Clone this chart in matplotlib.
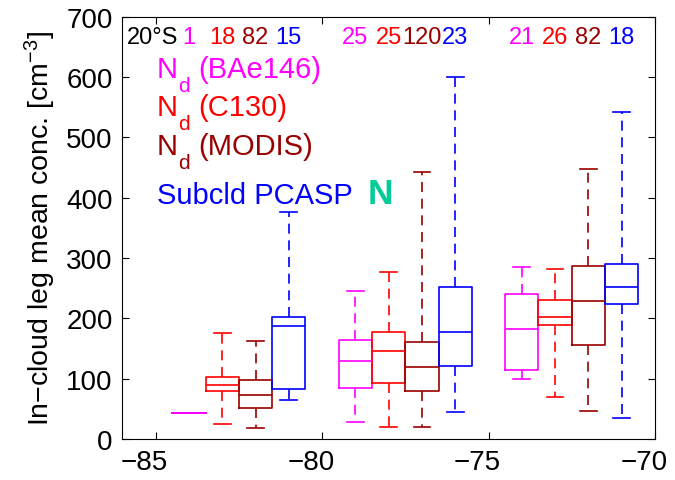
import matplotlib
matplotlib.use("Agg")
import matplotlib.pyplot as plt
from matplotlib.transforms import ScaledTranslation

plt.rcParams['font.family'] = ['Liberation Sans', 'DejaVu Sans']
plt.rcParams['mathtext.fontset'] = 'custom'
plt.rcParams['mathtext.rm'] = 'Liberation Sans'
plt.rcParams['mathtext.it'] = 'Liberation Sans:italic'

# box stats: whisker low, q1, median, q3, whisker high, count
bae_pos = [-84, -79, -74]
bae_low = [43.7, 28.8, 100.2]
bae_q1 = [43.7, 84.2, 114.6]
bae_med = [43.7, 129, 182.7]
bae_q3 = [43.7, 164, 239.7]
bae_high = [43.7, 245.8, 284.6]
bae_n = [1, 25, 21]

c130_pos = [-83, -78, -73]
c130_low = [25.4, 20.5, 69.8]
c130_q1 = [79, 92.5, 188.8]
c130_med = [90, 145.7, 202.7]
c130_q3 = [103, 176.6, 229.8]
c130_high = [176, 277, 282.4]
c130_n = [18, 25, 26]

modis_pos = [-82, -77, -72]
modis_low = [18.3, 20.5, 47]
modis_q1 = [51, 80.3, 155.6]
modis_med = [73.6, 120, 228]
modis_q3 = [98.5, 160, 286.8]
modis_high = [161.7, 442.4, 447.4]
modis_n = [82, 120, 82]

pcasp_pos = [-81, -76, -71]
pcasp_low = [65.3, 44.8, 34.9]
pcasp_q1 = [82.5, 121.3, 223.8]
pcasp_med = [186.6, 176.6, 252.5]
pcasp_q3 = [202.6, 252.5, 289.5]
pcasp_high = [376, 600.5, 541.5]
pcasp_n = [15, 23, 18]

magenta, red, darkred, blue = "#FF00FF", "#FF0000", "#990000", "#0000FF"

series = [
    (magenta, bae_pos, bae_low, bae_q1, bae_med, bae_q3, bae_high, bae_n),
    (red, c130_pos, c130_low, c130_q1, c130_med, c130_q3, c130_high, c130_n),
    (darkred, modis_pos, modis_low, modis_q1, modis_med, modis_q3, modis_high, modis_n),
    (blue, pcasp_pos, pcasp_low, pcasp_q1, pcasp_med, pcasp_q3, pcasp_high, pcasp_n),
]

fig = plt.figure(figsize=(6.75, 4.81), dpi=100)
ax = fig.add_axes([0.1813, 0.0852, 0.789, 0.878])

for col, pos, lo, q1, med, q3, hi, n in series:
    stats = []
    for i in range(len(pos)):
        stats.append(dict(whislo=lo[i], q1=q1[i], med=med[i], q3=q3[i], whishi=hi[i], fliers=[]))
    ax.bxp(stats, positions=pos, widths=1.0, showfliers=False, manage_ticks=False,
           boxprops=dict(color=col, lw=1.2),
           medianprops=dict(color=col, lw=1.2),
           whiskerprops=dict(color=col, lw=1.2, linestyle=(0, (6, 4))),
           capprops=dict(color=col, lw=1.2))
    for p, k in zip(pos, n):
        ax.text(p, 656, str(k), color=col, fontsize=17, ha='center', va='baseline')

ax.text(-85.87, 656, "20\u00b0S", color='black', fontsize=17, ha='left', va='baseline')

# text legend (N with a lowered subscript d, like the MATLAB tex output)
legend_rows = [("(BAe146)", magenta, 599.7), ("(C130)", red, 536.9), ("(MODIS)", darkred, 472.1)]
for label, col, yb in legend_rows:
    ax.text(-84.97, yb, "N", color=col, fontsize=21, va='baseline')
    ax.text(-84.32, yb - 23, "d", color=col, fontsize=15, va='baseline')
    ax.text(-83.73, yb, label, color=col, fontsize=21, va='baseline')
ax.text(-84.97, 392, "Subcld PCASP", color=blue, fontsize=21, va='baseline')
ax.text(-78.62, 392, "N", color="#00CC96", fontsize=25.5, fontweight='bold', va='baseline')

ax.set_xlim(-86, -70)
ax.set_ylim(0, 700)
ax.set_xticks([-85, -80, -75, -70])
ax.set_yticks(range(0, 701, 100))
ax.tick_params(direction='in', top=True, right=True, length=5, labelsize=20, pad=7)
ax.set_ylabel("In\u2212cloud leg mean conc. [cm$^{\\mathregular{-3}}$]", fontsize=20.5, labelpad=6)

# x tick labels sit a little left of their ticks in the original
shift = ScaledTranslation(-8 / 72, 0, fig.dpi_scale_trans)
for lab in ax.get_xticklabels():
    lab.set_transform(lab.get_transform() + shift)

fig.savefig("out.png", dpi=100)
